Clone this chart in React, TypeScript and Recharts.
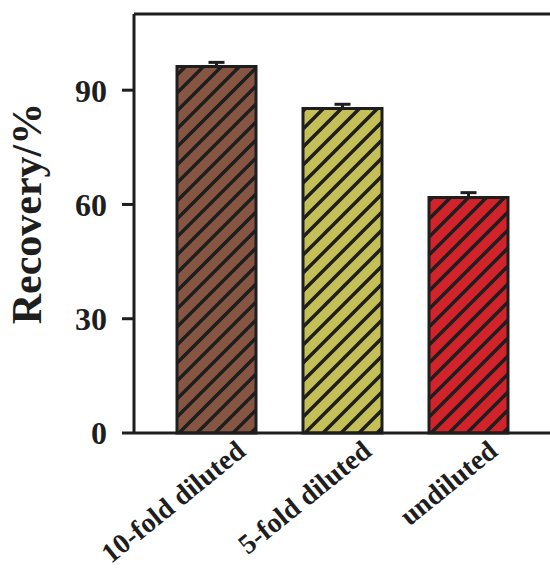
import { BarChart, Bar, XAxis, YAxis, Cell, ErrorBar, ReferenceLine } from 'recharts';

const categories = ['10-fold diluted', '5-fold diluted', 'undiluted'];
const recovery = [96.2, 85.2, 61.8];
const errorUp = [1.1, 1.1, 1.3];
const barColors = ['#875642', '#C4BF57', '#D2232A'];
const yTicks = [0, 30, 60, 90];

const data = categories.map((name, i) => ({
  name,
  value: recovery[i],
  err: [0, errorUp[i]],
}));

const FONT = '"Liberation Serif", "Times New Roman", serif';
const INK = '#1e1e1e';

const AngledTick = ({ x, y, payload }: any) => (
  <g transform={`translate(${x + 31},${y + 13})`}>
    <text
      textAnchor="end"
      transform="rotate(-39)"
      fontFamily={FONT}
      fontWeight="bold"
      fontSize={28}
      fill={INK}
    >
      {payload.value}
    </text>
  </g>
);

const YLabel = ({ viewBox }: any) => {
  const cx = viewBox.x + 41;
  const cy = viewBox.y + viewBox.height / 2 - 10;
  return (
    <text
      x={cx}
      y={cy}
      transform={`rotate(-90, ${cx}, ${cy})`}
      textAnchor="middle"
      fontFamily={FONT}
      fontWeight="bold"
      fontSize={42}
      fill={INK}
    >
      Recovery/%
    </text>
  );
};

export default function App() {
  return (
    <div style={{ position: 'absolute', left: 0, top: 0, width: 550, height: 571, background: '#fff' }}>
      <svg width={0} height={0} style={{ position: 'absolute' }}>
        <defs>
          {barColors.map((c, i) => (
            <pattern key={i} id={`hatch${i}`} patternUnits="userSpaceOnUse" width={18} height={18}>
              <rect width={18} height={18} fill={c} />
              <path
                d="M-4.5,4.5 L4.5,-4.5 M0,18 L18,0 M13.5,22.5 L22.5,13.5"
                stroke={INK}
                strokeWidth={3.5}
              />
            </pattern>
          ))}
        </defs>
      </svg>
      <BarChart
        width={550}
        height={571}
        data={data}
        margin={{ top: 14, right: 0, left: 0, bottom: 0 }}
      >
        <XAxis
          dataKey="name"
          interval={0}
          height={138}
          padding={{ left: 19, right: 19 }}
          axisLine={{ stroke: INK, strokeWidth: 3 }}
          tickLine={false}
          tick={<AngledTick />}
        />
        <YAxis
          domain={[0, 110]}
          ticks={yTicks}
          width={134}
          tickSize={12}
          tickMargin={15}
          axisLine={{ stroke: INK, strokeWidth: 3 }}
          tickLine={{ stroke: INK, strokeWidth: 3 }}
          tick={{ fontFamily: FONT, fontWeight: 'bold', fontSize: 32, fill: INK }}
          label={<YLabel />}
        />
        <ReferenceLine y={110} stroke={INK} strokeWidth={3} />
        <Bar dataKey="value" barSize={79} stroke={INK} strokeWidth={3} isAnimationActive={false}>
          {data.map((_, i) => (
            <Cell key={i} fill={`url(#hatch${i})`} />
          ))}
          <ErrorBar dataKey="err" width={8} stroke={INK} strokeWidth={3} direction="y" />
        </Bar>
      </BarChart>
    </div>
  );
}
